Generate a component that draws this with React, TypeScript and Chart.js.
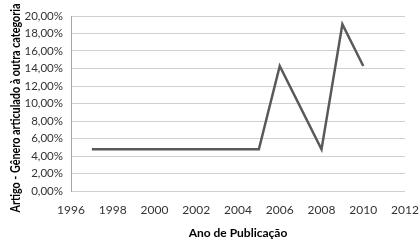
import React, { useEffect, useRef } from "react";
import { Chart, registerables } from "chart.js";

Chart.register(...registerables);

const years = [1997, 2005, 2006, 2008, 2009, 2010];
const shares = [4.76, 4.76, 14.29, 4.76, 19.05, 14.29];
const xTitle = "Ano de Publicação";
const yTitle = "Artigo - Gênero articulado à outra categoria";

const yTitlePlugin = {
  id: "yTitleCondensed",
  afterDraw(chart: any) {
    const c = chart.ctx;
    c.save();
    c.font = "bold 12.5px Lato, 'Liberation Sans'";
    c.fillStyle = "#000";
    c.textAlign = "center";
    c.textBaseline = "middle";
    const w = c.measureText(yTitle).width;
    const target = 209;
    c.translate(16, 108);
    c.rotate(-Math.PI / 2);
    c.scale(Math.min(1, target / w), 1);
    c.fillText(yTitle, 0, 0);
    c.restore();
  },
};

export default function App() {
  const ref = useRef<HTMLCanvasElement>(null);
  useEffect(() => {
    document.body.style.margin = "0";
    const ctx = ref.current!;
    const chart = new Chart(ctx, {
      type: "scatter",
      data: {
        datasets: [
          {
            data: years.map((y, i) => ({ x: y, y: shares[i] })),
            showLine: true,
            borderColor: "#595959",
            borderWidth: 2.5,
            pointRadius: 0,
            tension: 0,
          },
        ],
      },
      plugins: [yTitlePlugin],
      options: {
        responsive: false,
        animation: false,
        layout: { padding: { left: 0, top: 16, right: 15, bottom: 0 } },
        plugins: { legend: { display: false }, tooltip: { enabled: false } },
        scales: {
          x: {
            type: "linear",
            min: 1996,
            max: 2012,
            ticks: {
              stepSize: 2,
              color: "#333",
              font: { family: "Lato, 'Liberation Sans'", size: 12 },
              padding: 12,
              callback: (v: any) => String(v),
              maxRotation: 0,
            },
            grid: { display: false, drawTicks: false },
            border: { display: false },
            title: {
              display: true,
              text: xTitle,
              color: "#000",
              font: { family: "Lato, 'Liberation Sans'", size: 12, weight: "bold" },
              padding: { top: 0, bottom: 5 },
            },
            afterFit: (s: any) => {
              s.height = 54;
              s.paddingRight = 0;
              s.paddingLeft = 0;
            },
          },
          y: {
            min: 0,
            max: 20,
            ticks: {
              stepSize: 2,
              color: "#333",
              font: { family: "Lato, 'Liberation Sans'", size: 11.5 },
              padding: 8,
              callback: (v: any) => Number(v).toFixed(2).replace(".", ",") + "%",
            },
            grid: { color: "#d0d0d0", lineWidth: 1, drawTicks: false },
            border: { display: true, color: "#a6a6a6" },
            afterFit: (s: any) => {
              s.width = 71;
            },
          },
        },
      },
    });
    return () => chart.destroy();
  }, []);
  return (
    <div style={{ width: 420, height: 245 }}>
      <canvas ref={ref} width={420} height={245} />
    </div>
  );
}
